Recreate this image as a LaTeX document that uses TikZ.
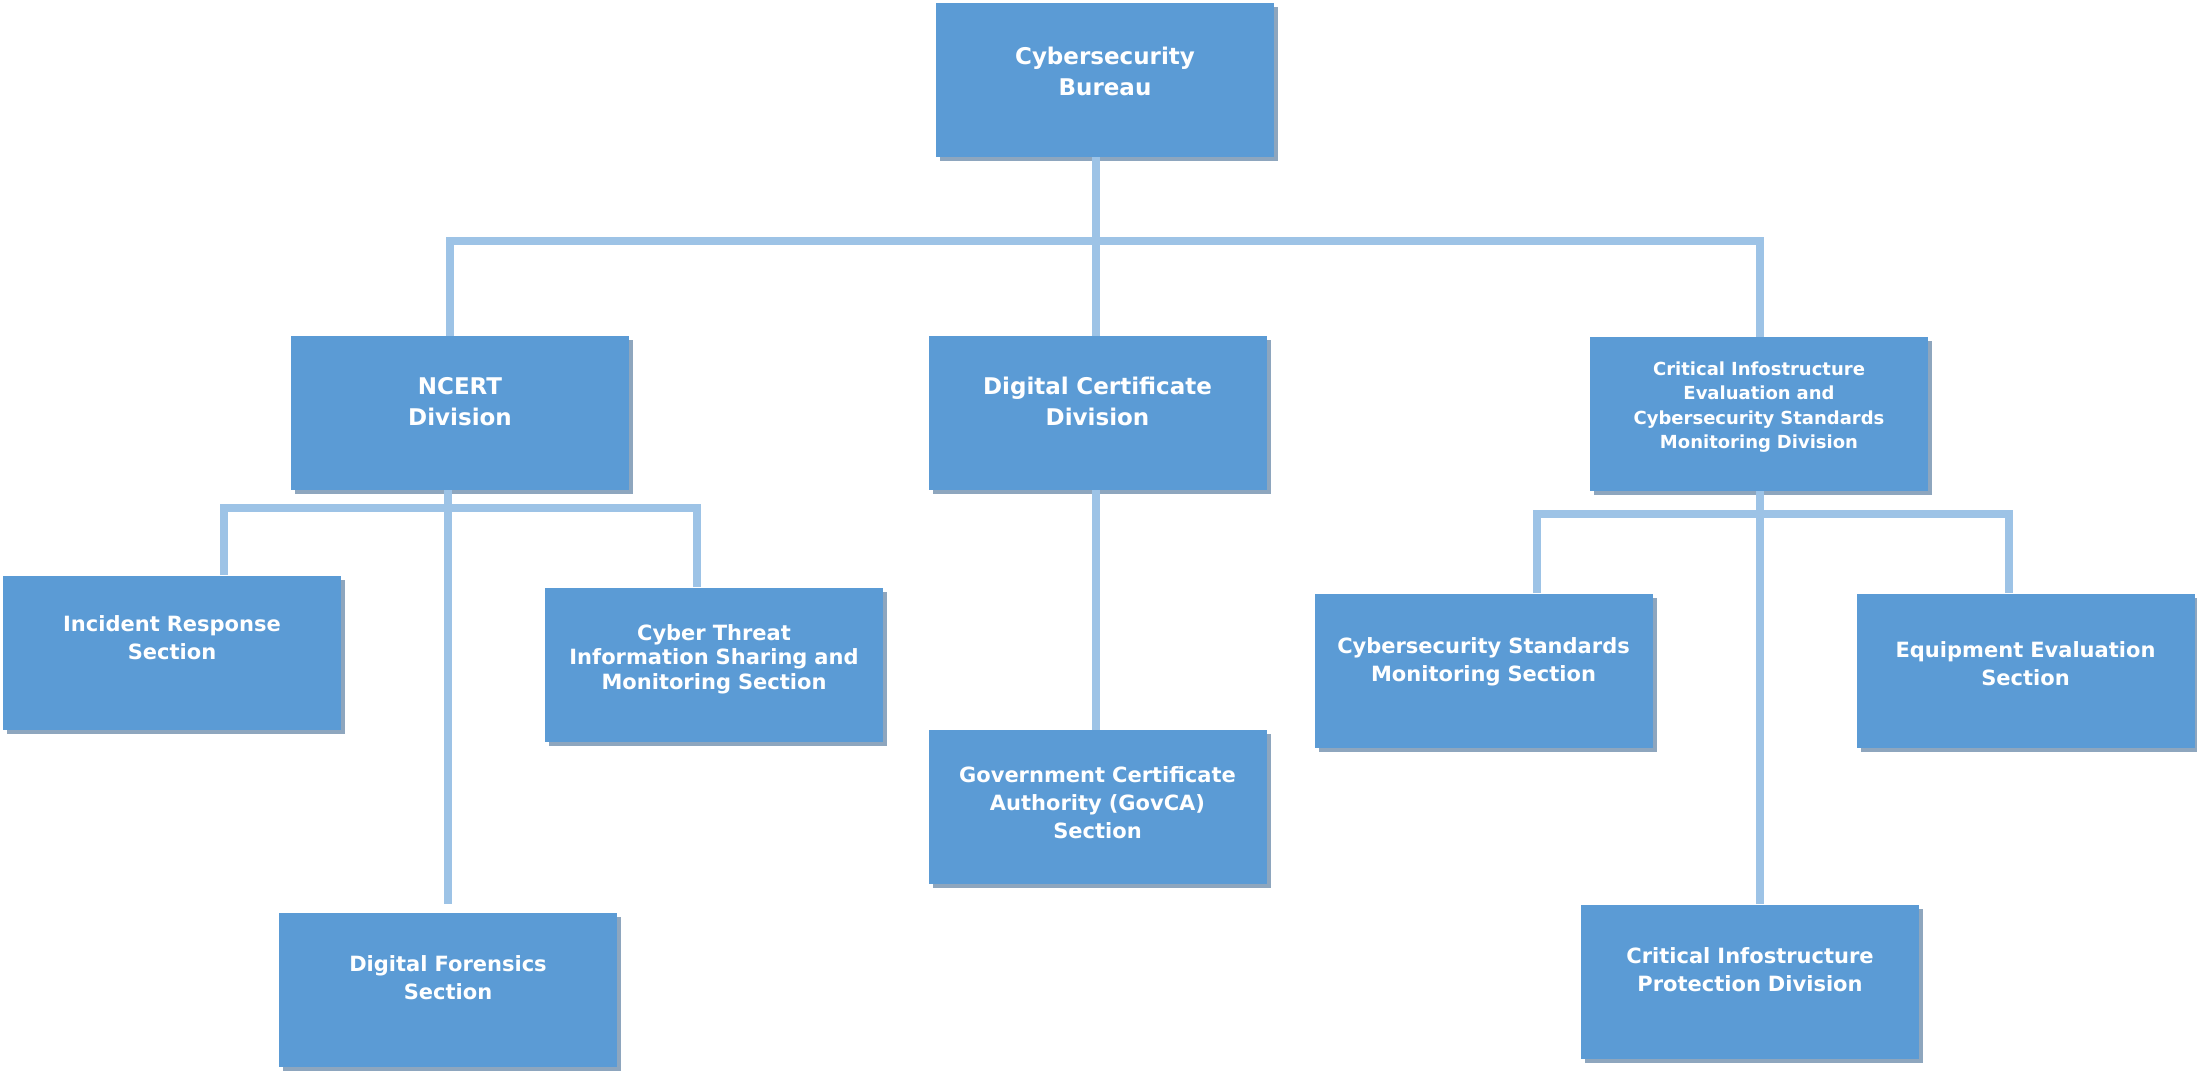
\documentclass[tikz,border=0pt]{standalone}
\usepackage{fontspec}
\setmainfont{DejaVu Sans}
\usetikzlibrary{shadows}
\definecolor{boxblue}{HTML}{5B9BD5}
\definecolor{lineblue}{HTML}{9DC3E6}
\definecolor{shadowblue}{HTML}{1D4E7E}
\tikzset{
  orgbox/.style={rectangle, fill=boxblue, minimum width=338pt, minimum height=154pt, inner sep=0pt,
    drop shadow={shadow xshift=4pt, shadow yshift=-4pt, fill=shadowblue, opacity=0.5}},
  txt/.style={text=white, font=\bfseries, align=center, text width=330pt, inner sep=0pt},
  big/.style={txt, font=\fontsize{23}{31}\selectfont\bfseries},
  mid/.style={txt, font=\fontsize{21}{28}\selectfont\bfseries},
  midtight/.style={txt, font=\fontsize{21}{24.5}\selectfont\bfseries},
  small/.style={txt, font=\fontsize{18}{24.5}\selectfont\bfseries},
  conn/.style={draw=lineblue, line width=8pt}
}
\begin{document}
\begin{tikzpicture}[x=1pt, y=-1pt]
\useasboundingbox (0,0) rectangle (2197,1071);
% bus coordinates
\coordinate (b0) at (1096,241);
\coordinate (bL) at (450,241);
\coordinate (bR) at (1760,241);
\coordinate (n0) at (448,508);
\coordinate (nL) at (224,508);
\coordinate (nR) at (697,508);
\coordinate (nEnd) at (448,904);
\coordinate (c0) at (1760,514);
\coordinate (cL) at (1537,514);
\coordinate (cR) at (2009,514);
\coordinate (cEnd) at (1760,904);
% boxes
\node[orgbox] (bureau) at (1105,80) {};
\node[orgbox] (ncert) at (460,413) {};
\node[orgbox] (dcd) at (1097.5,413) {};
\node[orgbox] (cie) at (1759,414) {};
\node[orgbox] (ir) at (172,652.5) {};
\node[orgbox] (ct) at (714,664.5) {};
\node[orgbox] (df) at (448,990) {};
\node[orgbox] (gov) at (1097.5,807) {};
\node[orgbox] (csm) at (1483.5,670.5) {};
\node[orgbox] (eq) at (2025.5,670.5) {};
\node[orgbox] (cip) at (1750,981.5) {};
% connectors
\draw[conn] (b0 |- bureau.south) -- (b0);
\draw[conn, line cap=rect] (bL) -- (bR);
\draw[conn] (bL) -- (bL |- ncert.north);
\draw[conn] (b0) -- (b0 |- dcd.north);
\draw[conn] (bR) -- (bR |- cie.north);
\draw[conn] (n0 |- ncert.south) -- (nEnd);
\draw[conn, line cap=rect] (nL) -- (nR);
\draw[conn] (nL) -- (nL |- ir.north);
\draw[conn] (nR) -- (nR |- ct.north);
\draw[conn] (b0 |- dcd.south) -- (b0 |- gov.north);
\draw[conn] (c0 |- cie.south) -- (cEnd);
\draw[conn, line cap=rect] (cL) -- (cR);
\draw[conn] (cL) -- (cL |- csm.north);
\draw[conn] (cR) -- (cR |- eq.north);
% texts
\node[big] at ([yshift=9pt]bureau.center) {Cybersecurity\\Bureau};
\node[big] at ([yshift=11pt]ncert.center) {NCERT\\Division};
\node[big] at ([yshift=12pt]dcd.center) {Digital Certificate\\Division};
\node[small] at ([yshift=7pt]cie.center) {Critical Infostructure\\Evaluation and\\Cybersecurity Standards\\Monitoring Division};
\node[mid] at ([yshift=15pt]ir.center) {Incident Response\\Section};
\node[midtight] at ([yshift=5.5pt]ct.center) {Cyber Threat\\Information Sharing and\\Monitoring Section};
\node[mid] at ([yshift=12pt]df.center) {Digital Forensics\\Section};
\node[mid] at ([yshift=4pt]gov.center) {Government Certificate\\Authority (GovCA)\\Section};
\node[mid] at ([yshift=9pt]csm.center) {Cybersecurity Standards\\Monitoring Section};
\node[mid] at ([yshift=7pt]eq.center) {Equipment Evaluation\\Section};
\node[mid] at ([yshift=12pt]cip.center) {Critical Infostructure\\Protection Division};
\end{tikzpicture}
\end{document}
